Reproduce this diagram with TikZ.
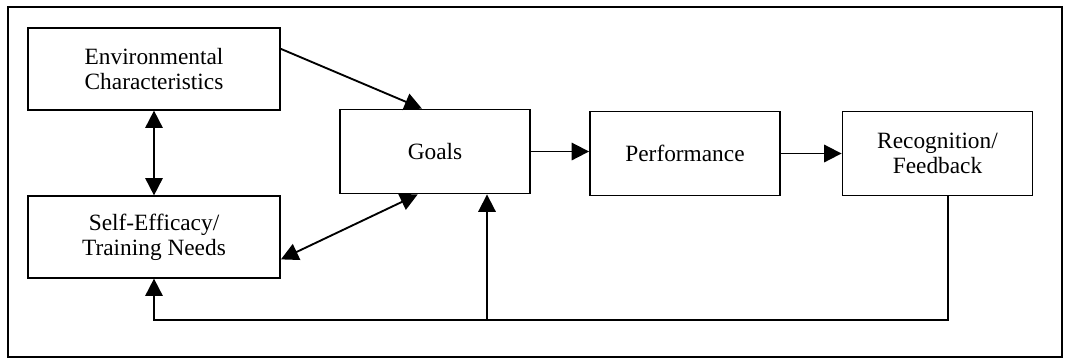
\documentclass[tikz,border=0pt]{standalone}
\usepackage{fontspec}
\setmainfont{Liberation Serif}
\usetikzlibrary{arrows.meta,calc}

\begin{document}
\begin{tikzpicture}[x=0.75pt,y=0.75pt,yscale=-1,xscale=1,
  box/.style={draw, line width=1.4pt, align=center, inner sep=0.75pt, font=\fontsize{17.5}{19}\selectfont},
  widebox/.style={box, minimum width=189pt, minimum height=61pt},
  narrowbox/.style={box, minimum width=142.5pt, minimum height=63pt},
  arr/.style={line width=1.4pt, -{Triangle[length=13pt,width=13pt]}},
  dblarr/.style={line width=1.4pt, {Triangle[length=13pt,width=13pt]}-{Triangle[length=13pt,width=13pt]}}]
\useasboundingbox (0,0) rectangle (1069,362);
%Shape: Rectangle [frame]
\draw [line width=1.4pt] (8,7) rectangle (1062,357);
% Text Node
\node [widebox] (env) at (154,69) {Environmental\\Characteristics};
% Text Node
\node [widebox] (self) at (154,237) {Self-Efficacy/\\Training Needs};
% Text Node
\node [narrowbox] (goals) at (435,151.5) {Goals};
% Text Node
\node [narrowbox] (perf) at (685,153.5) {Performance};
% Text Node
\node [narrowbox] (recog) at (937.5,153.5) {Recognition/\\Feedback};
%Straight Lines
\draw [arr] (env.9.5) -- (goals.107);
\draw [dblarr] (env.south) -- (self.north);
\draw [dblarr] (self.-10) -- (goals.248);
\draw [arr] (goals.east) -- (goals.east -| perf.west);
\draw [arr] (perf.east) -- (perf.east -| recog.west);
%Feedback loop
\coordinate (back) at (948,320);
\coordinate (tap) at (487,320);
\draw [arr] (recog.south -| back) -- (back) -| (self.south);
\draw [arr] (tap) -- (tap |- goals.south);
\end{tikzpicture}
\end{document}
